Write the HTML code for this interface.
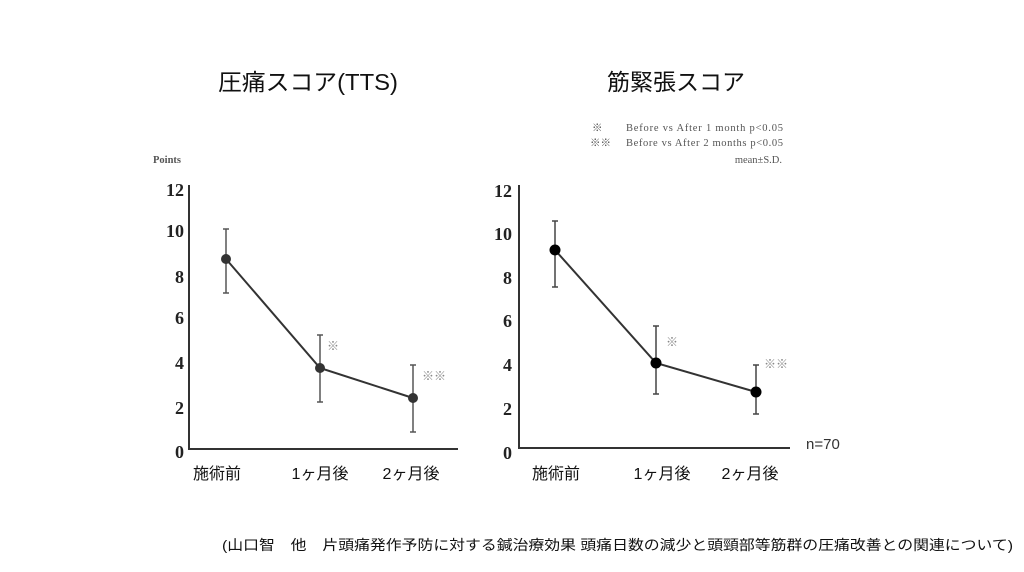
<!DOCTYPE html>
<html><head><meta charset="utf-8"><style>
body{margin:0;background:#fff;}
svg text{font-family:"Liberation Sans","Noto Sans CJK JP",sans-serif;}
.t{font-family:"Liberation Serif",serif !important;font-weight:bold;font-size:18px;fill:#222;}
.c{font-size:16px;fill:#111;}
.s{font-family:"Liberation Serif","Noto Sans CJK JP",serif !important;font-size:10.5px;fill:#555;}
</style></head><body>
<svg width="1024" height="567" viewBox="0 0 1024 567" xmlns="http://www.w3.org/2000/svg">
<rect width="1024" height="567" fill="#fff"/>
<text x="308" y="90" font-size="23" text-anchor="middle" fill="#111" textLength="180" lengthAdjust="spacingAndGlyphs">圧痛スコア(TTS)</text>
<text x="676" y="90" font-size="23" text-anchor="middle" fill="#111">筋緊張スコア</text>

<text x="153" y="163" class="s" style="font-weight:bold">Points</text>
<text x="184" y="196" class="t" text-anchor="end">12</text><text x="184" y="237" class="t" text-anchor="end">10</text><text x="184" y="283" class="t" text-anchor="end">8</text><text x="184" y="324" class="t" text-anchor="end">6</text><text x="184" y="369" class="t" text-anchor="end">4</text><text x="184" y="414" class="t" text-anchor="end">2</text><text x="184" y="458" class="t" text-anchor="end">0</text>
<polyline points="189,185 189,449 458,449" fill="none" stroke="#333" stroke-width="2"/>
<g stroke="#555" stroke-width="1.5">
<line x1="226" y1="229" x2="226" y2="293"/><line x1="223" y1="229" x2="229" y2="229"/><line x1="223" y1="293" x2="229" y2="293"/>
<line x1="320" y1="335" x2="320" y2="402"/><line x1="317" y1="335" x2="323" y2="335"/><line x1="317" y1="402" x2="323" y2="402"/>
<line x1="413" y1="365" x2="413" y2="432"/><line x1="410" y1="365" x2="416" y2="365"/><line x1="410" y1="432" x2="416" y2="432"/>
</g>
<polyline points="226,259 320,368 413,398" fill="none" stroke="#333" stroke-width="2"/>
<circle cx="226" cy="259" r="5" fill="#333"/><circle cx="320" cy="368" r="5" fill="#333"/><circle cx="413" cy="398" r="5" fill="#333"/>
<text x="333" y="350" font-size="12" fill="#888" text-anchor="middle">※</text>
<text x="434" y="380" font-size="12" fill="#888" text-anchor="middle">※※</text>
<text x="217" y="479" class="c" text-anchor="middle">施術前</text>
<text x="320" y="479" class="c" text-anchor="middle">1ヶ月後</text>
<text x="411" y="479" class="c" text-anchor="middle">2ヶ月後</text>

<text x="592" y="131" class="s">※</text><text x="626" y="131" class="s" textLength="157">Before vs After 1 month  p&lt;0.05</text>
<text x="590" y="146" class="s">※※</text><text x="626" y="146" class="s" textLength="157">Before vs After 2 months p&lt;0.05</text>
<text x="782" y="163" class="s" text-anchor="end">mean±S.D.</text>
<text x="512" y="197" class="t" text-anchor="end">12</text><text x="512" y="240" class="t" text-anchor="end">10</text><text x="512" y="284" class="t" text-anchor="end">8</text><text x="512" y="327" class="t" text-anchor="end">6</text><text x="512" y="371" class="t" text-anchor="end">4</text><text x="512" y="415" class="t" text-anchor="end">2</text><text x="512" y="459" class="t" text-anchor="end">0</text>
<polyline points="519,185 519,448 790,448" fill="none" stroke="#333" stroke-width="2"/>
<g stroke="#444" stroke-width="1.5">
<line x1="555" y1="221" x2="555" y2="287"/><line x1="552" y1="221" x2="558" y2="221"/><line x1="552" y1="287" x2="558" y2="287"/>
<line x1="656" y1="326" x2="656" y2="394"/><line x1="653" y1="326" x2="659" y2="326"/><line x1="653" y1="394" x2="659" y2="394"/>
<line x1="756" y1="365" x2="756" y2="414"/><line x1="753" y1="365" x2="759" y2="365"/><line x1="753" y1="414" x2="759" y2="414"/>
</g>
<polyline points="555,250 656,363 756,392" fill="none" stroke="#333" stroke-width="2"/>
<circle cx="555" cy="250" r="5.5" fill="#000"/><circle cx="656" cy="363" r="5.5" fill="#000"/><circle cx="756" cy="392" r="5.5" fill="#000"/>
<text x="672" y="346" font-size="12" fill="#888" text-anchor="middle">※</text>
<text x="776" y="368" font-size="12" fill="#888" text-anchor="middle">※※</text>
<text x="806" y="449" font-size="15" fill="#333">n=70</text>
<text x="556" y="479" class="c" text-anchor="middle">施術前</text>
<text x="662" y="479" class="c" text-anchor="middle">1ヶ月後</text>
<text x="750" y="479" class="c" text-anchor="middle">2ヶ月後</text>

<text x="222" y="550" font-size="14" fill="#111" textLength="791" lengthAdjust="spacingAndGlyphs">(山口智　他　片頭痛発作予防に対する鍼治療効果 頭痛日数の減少と頭頸部等筋群の圧痛改善との関連について)</text>
</svg>
</body></html>
